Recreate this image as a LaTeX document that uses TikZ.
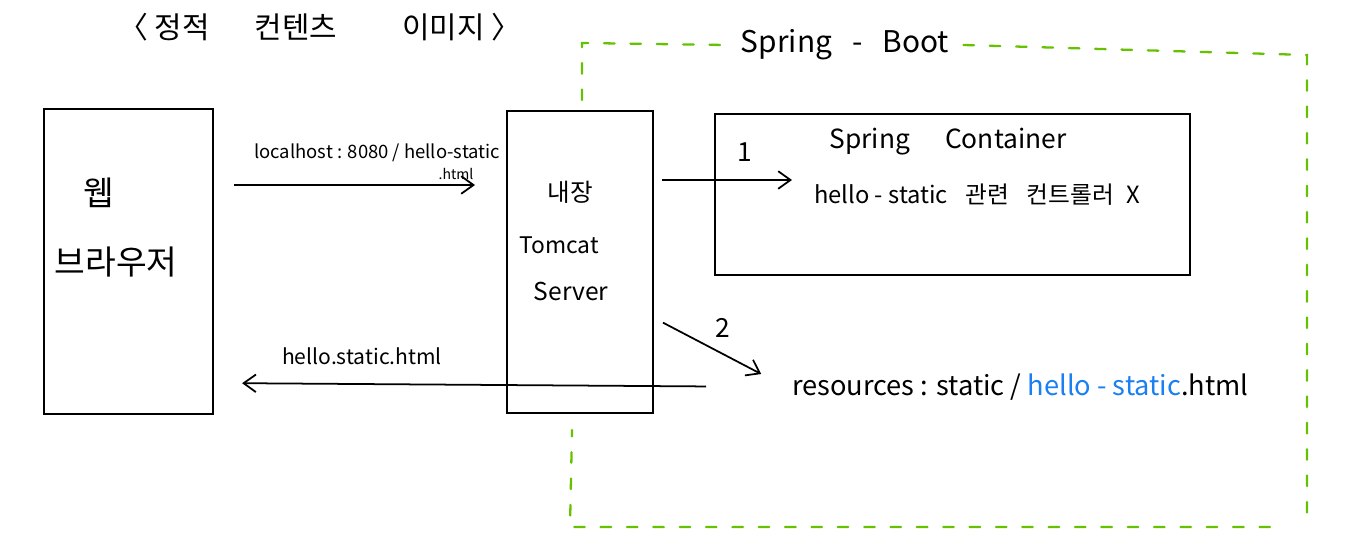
\documentclass[tikz,border=0pt]{standalone}
\usepackage{fontspec}
\setmainfont{Noto Sans CJK KR}
\usetikzlibrary{arrows.meta}
\usetikzlibrary{positioning}

\tikzset{
	box/.style={draw,line width=1.2pt,inner sep=0pt,anchor=north west},
	link/.style={line width=1pt,-{Straight Barb[length=7pt,width=10pt,line width=1pt]}},
	boot/.style={draw=green!60!black!60!yellow,line width=1.3pt,dash pattern=on 6pt off 9pt,line cap=round},
}

\begin{document}
\begin{tikzpicture}[x=0.02cm,y=-0.02cm]
		\useasboundingbox (0,0) rectangle (1371,551);

		% title
		\node [font=\fontsize{17}{20}\selectfont,anchor=west] (title) at (112,27) {〈 정적\hspace{0.9cm}컨텐츠\hspace{1.3cm}이미지 〉};

		% boxes
		\node [box,minimum width=169*0.02cm,minimum height=305*0.02cm] (browser) at (43,108) {};
		\node [box,minimum width=146*0.02cm,minimum height=302*0.02cm] (tomcat) at (506,110) {};
		\node [box,minimum width=475*0.02cm,minimum height=161*0.02cm] (container) at (714,113) {};

		\node [font=\fontsize{19}{22}\selectfont] (web) at (99,193) {웹};
		\node [font=\fontsize{19}{22}\selectfont] (browsertext) at (116,262) {브라우저};

		\node [font=\fontsize{14}{16}\selectfont] (builtin) at (570,192) {내장};
		\node [font=\fontsize{13}{16}\selectfont] (tomcattext) at (559,245) {Tomcat};
		\node [font=\fontsize{14}{16}\selectfont] (server) at (571,291) {Server};

		\node [font=\fontsize{15}{18}\selectfont] (spring) at (948,142) {Spring\hspace{0.7cm}Container};
		\node [font=\fontsize{13.5}{16}\selectfont,anchor=west] (ctrl) at (808,195) {hello - static\hspace{0.35cm}관련\hspace{0.35cm}컨트롤러\hspace{0.25cm}X};
		\node [font=\fontsize{15}{18}\selectfont] (one) at (745,152) {1};
		\node [font=\fontsize{15}{18}\selectfont] (two) at (723,328) {2};

		\node [font=\fontsize{15.5}{18}\selectfont,anchor=west] (res) at (786,387) {resources : static / \textcolor[HTML]{1A7FF0}{hello - static}.html};

		% spring boot region
		\node [font=\fontsize{17}{20}\selectfont,inner xsep=8pt] (boot) at (845,45) {Spring\hspace{0.4cm}-\hspace{0.4cm}Boot};
		\draw [boot] (582,100) -- (582,43) -- (boot.west);
		\draw [boot] (boot.east) -- (1307,55) -- (1307,520);
		\draw [boot] (1270,527) -- (570,527) -- (572,430);

		% requests
		\coordinate (req) at (0,185);
		\coordinate (ret) at (0,383);
		\node [font=\fontsize{10.5}{12}\selectfont,anchor=south west] (url) at (248,168) {localhost : 8080 / hello-static};
		\node [font=\fontsize{8}{9}\selectfont] (urlend) at (456,174) {.html};
		\node [font=\fontsize{12}{14}\selectfont] (back) at (362,356) {hello.static.html};

		\draw [link,shorten <=20*0.02cm,shorten >=31*0.02cm] (browser.east |- req) -- (tomcat.west |- req);
		\draw [link,shorten <=8*0.02cm,shorten >=16*0.02cm] (tomcat.east |- 0,180) -- (ctrl.west |- 0,180);
		\draw [link,shorten <=10*0.02cm,shorten >=28*0.02cm] (tomcat.east |- 0,318) -- (res.west);
		\draw [link,shorten <=80*0.02cm,shorten >=28*0.02cm] (res.west) -- (browser.east |- ret);
\end{tikzpicture}
\end{document}
